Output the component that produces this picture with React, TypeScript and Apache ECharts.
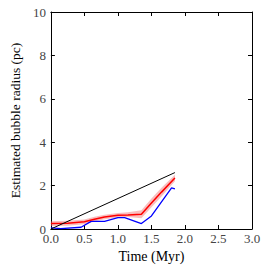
import React, { useEffect, useRef } from "react";
import * as echarts from "echarts";

const blackX = [0, 1.85];
const blackY = [0, 2.6];

const redX = [0, 0.25, 0.5, 0.65, 0.8, 1.0, 1.15, 1.35, 1.5, 1.65, 1.85];
const redY = [0.25, 0.27, 0.33, 0.45, 0.55, 0.63, 0.65, 0.68, 1.2, 1.7, 2.35];
const bandLow = [0.14, 0.15, 0.22, 0.34, 0.45, 0.53, 0.55, 0.5, 1.0, 1.5, 2.2];
const bandHigh = [0.36, 0.38, 0.44, 0.56, 0.66, 0.74, 0.77, 0.86, 1.4, 1.9, 2.5];

const blueX = [0, 0.15, 0.45, 0.6, 0.8, 1.0, 1.1, 1.35, 1.5, 1.8, 1.85];
const blueY = [0.05, 0.02, 0.08, 0.35, 0.35, 0.52, 0.52, 0.25, 0.6, 1.9, 1.85];

const xTicks = [0, 0.5, 1.0, 1.5, 2.0, 2.5, 3.0];
const yTicks = [0, 2, 4, 6, 8, 10];

const zip = (xs: number[], ys: number[]) => xs.map((x, i) => [x, ys[i]]);

export default function App() {
  const ref = useRef<HTMLDivElement>(null);
  useEffect(() => {
    document.body.style.margin = "0";
    const chart = echarts.init(ref.current!, null, { renderer: "svg" });
    const font = "'Liberation Serif', 'DejaVu Serif', serif";
    const axisCommon = {
      axisLine: { show: true, onZero: false, lineStyle: { color: "#000", width: 1 } },
      axisTick: { show: true, inside: true, length: 4, lineStyle: { color: "#000" } },
      splitLine: { show: false },
    };
    chart.setOption({
      animation: false,
      grid: { left: 41, right: 14, top: 12, bottom: 41 },
      xAxis: [
        {
          type: "value",
          min: xTicks[0],
          max: xTicks[xTicks.length - 1],
          interval: 0.5,
          ...axisCommon,
          axisLabel: {
            color: "#444",
            fontFamily: font,
            fontSize: 13,
            margin: 3,
            formatter: (v: number) => v.toFixed(1),
          },
          name: "Time (Myr)",
          nameLocation: "middle",
          nameGap: 19,
          nameTextStyle: { color: "#000", fontFamily: font, fontSize: 14 },
        },
        {
          type: "value",
          position: "top",
          min: 0,
          max: 3,
          interval: 0.5,
          ...axisCommon,
          axisLabel: { show: false },
        },
      ],
      yAxis: [
        {
          type: "value",
          min: yTicks[0],
          max: yTicks[yTicks.length - 1],
          interval: 2,
          ...axisCommon,
          axisLabel: { color: "#444", fontFamily: font, fontSize: 13, margin: 5 },
          name: "Estimated bubble radius (pc)",
          nameLocation: "middle",
          nameGap: 22,
          nameTextStyle: { color: "#000", fontFamily: font, fontSize: 13.5 },
        },
        {
          type: "value",
          position: "right",
          min: 0,
          max: 10,
          interval: 2,
          ...axisCommon,
          axisLabel: { show: false },
        },
      ],
      series: [
        {
          type: "custom",
          silent: true,
          data: redX.map((x, i) => [x, bandLow[i], bandHigh[i]]),
          renderItem: (params: any, api: any) => {
            if (params.dataIndex !== 0) return null;
            const upper = redX.map((x, i) => api.coord([x, bandHigh[i]]));
            const lower = redX.map((x, i) => api.coord([x, bandLow[i]])).reverse();
            return {
              type: "polygon",
              shape: { points: upper.concat(lower) },
              style: { fill: "rgba(240,110,110,0.45)", stroke: "none" },
            };
          },
          z: 1,
        },
        {
          type: "line",
          data: zip(blueX, blueY),
          symbol: "none",
          lineStyle: { color: "#0000ff", width: 1.3 },
          z: 2,
        },
        {
          type: "line",
          data: zip(redX, redY),
          symbol: "none",
          lineStyle: { color: "#ff0000", width: 1.5 },
          z: 3,
        },
        {
          type: "line",
          data: zip(blackX, blackY),
          symbol: "none",
          lineStyle: { color: "#000", width: 1 },
          z: 4,
        },
      ],
    });
    return () => chart.dispose();
  }, []);
  return <div ref={ref} style={{ width: 266, height: 270 }} />;
}
